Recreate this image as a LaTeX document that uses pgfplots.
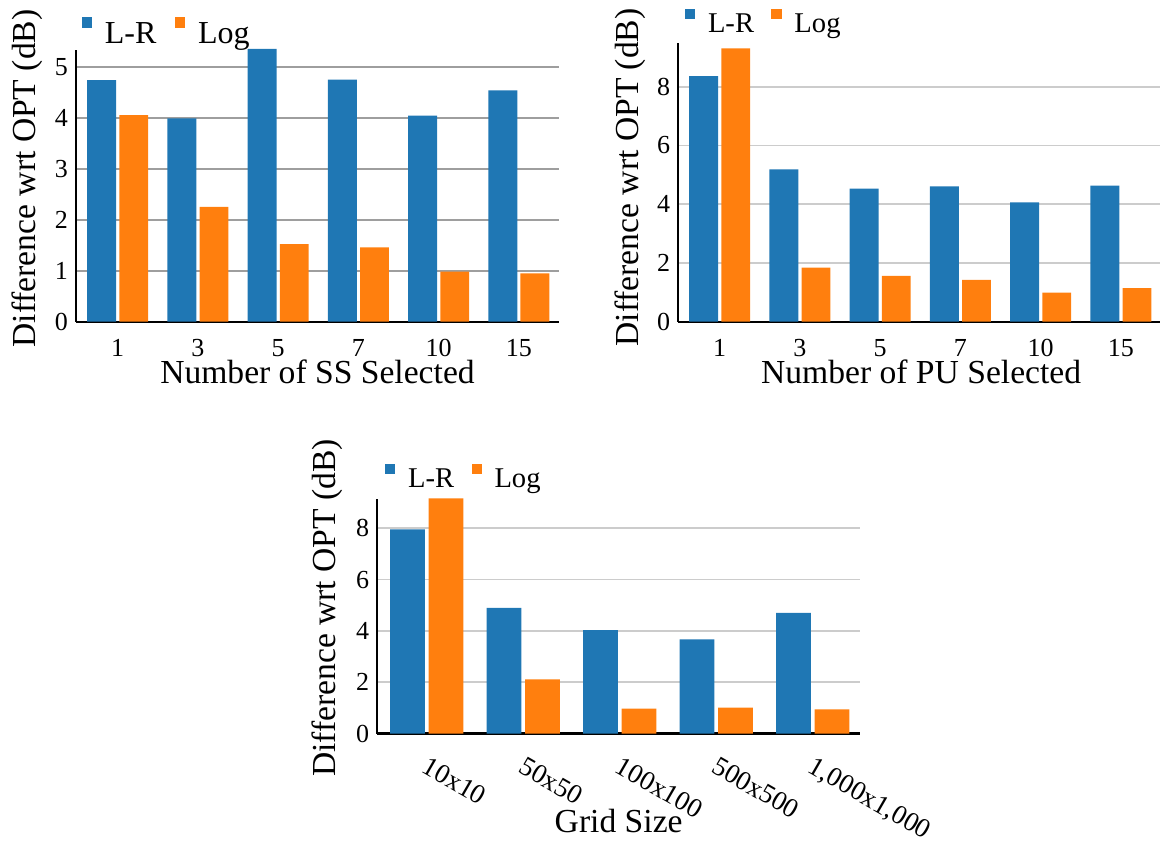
\documentclass[border=0pt]{standalone}
\usepackage{fontspec}
\setmainfont{Liberation Serif}
\usepackage{pgfplots}
\pgfplotsset{compat=1.18}
\definecolor{cLR}{RGB}{31,119,180}
\definecolor{cLog}{RGB}{255,127,14}
\pgfplotsset{
 common/.style={
  scale only axis, clip=false,
  axis lines*=left, axis line style={line width=1.1pt, black},
  ymin=0, major tick length=0pt,
  ymajorgrids,
  tick label style={font=\fontsize{13}{15}\selectfont},
  label style={font=\fontsize{16.8}{19}\selectfont},
  /pgf/number format/assume math mode=true,
  yticklabel style={anchor=east, inner sep=0pt, xshift=-3.9pt},
  legend columns=2,
  legend style={draw=none, fill=none, inner sep=0pt, outer sep=0pt, anchor=west,
    font=\fontsize{14.3}{16}\selectfont, nodes={inner sep=0pt},
    /tikz/every odd column/.append style={column sep=6.3pt},
    /tikz/every even column/.append style={column sep=8.7pt}},
 },
 lr/.style={ybar, bar width=0.36, bar shift=-0.2, fill=cLR, draw=none,
   legend image code/.code={\fill[cLR] (0pt,2.7pt) rectangle (5.2pt,7.9pt);}},
 lg/.style={ybar, bar width=0.36, bar shift=0.2, fill=cLog, draw=none,
   legend image code/.code={\fill[cLog] (0pt,2.7pt) rectangle (5.2pt,7.9pt);}},
 lrb/.style={ybar, bar width=0.36, bar shift=-0.2, fill=cLR, draw=none,
   legend image code/.code={\fill[cLR] (0pt,3.35pt) rectangle (5.3pt,8.65pt);}},
 lgb/.style={ybar, bar width=0.36, bar shift=0.2, fill=cLog, draw=none,
   legend image code/.code={\fill[cLog] (0pt,3.35pt) rectangle (5.3pt,8.65pt);}},
}
\begin{document}
\begin{tikzpicture}
\useasboundingbox (0,0) rectangle (580pt,420pt);
% Chart 1
\begin{axis}[common, anchor=south west, at={(38pt,259.15pt)},
  width=241.5pt, height=135.85pt,
  xmin=-0.52, xmax=5.5, ymax=5.33,
  ytick={0,1,2,3,4,5},
  xtick={0,1,2,3,4,5}, xticklabels={1,3,5,7,10,15},
  xticklabel style={anchor=base, inner sep=0pt, yshift=-17.5pt},
  grid style={black!38, line width=0.9pt},
  xlabel={Number of SS Selected},
  ylabel={Difference wrt OPT (dB)},
  xlabel style={at={(axis description cs:0.5,-0.229)}, anchor=base},
  ylabel style={at={(axis description cs:-0.101,0.527)}, anchor=center},
  legend style={at={(axis description cs:0.0118,1.0666)}, font=\fontsize{16}{18}\selectfont,
    /tikz/every even column/.append style={column sep=9.2pt}},
]
\addplot[lrb] coordinates {(0,4.74) (1,3.99) (2,5.35) (3,4.75) (4,4.04) (5,4.54)};
\addplot[lgb] coordinates {(0,4.05) (1,2.25) (2,1.52) (3,1.46) (4,0.98) (5,0.95)};
\legend{L-R, Log}
\end{axis}
% Chart 2
\begin{axis}[common, anchor=south west, at={(339.15pt,259.15pt)},
  width=241.35pt, height=139.5pt,
  xmin=-0.516, xmax=5.5, ymax=9.5,
  ytick={0,2,4,6,8},
  xtick={0,1,2,3,4,5}, xticklabels={1,3,5,7,10,15},
  xticklabel style={anchor=base, inner sep=0pt, yshift=-17.5pt},
  grid style={black!20, line width=0.9pt},
  xlabel={Number of PU Selected},
  ylabel={Difference wrt OPT (dB)},
  xlabel style={at={(axis description cs:0.503,-0.223)}, anchor=base},
  ylabel style={at={(axis description cs:-0.1,0.517)}, anchor=center},
  legend style={at={(axis description cs:0.0139,1.0746)}},
]
\addplot[lr] coordinates {(0,8.36) (1,5.19) (2,4.53) (3,4.61) (4,4.06) (5,4.63)};
\addplot[lg] coordinates {(0,9.31) (1,1.84) (2,1.56) (3,1.42) (4,0.99) (5,1.14)};
\legend{L-R, Log}
\end{axis}
% Chart 3
\begin{scope}
\clip (140pt,0pt) rectangle (466pt,212pt);
\begin{axis}[common, anchor=south west, at={(188.65pt,53.25pt)},
  width=241.35pt, height=117.1pt,
  xmin=-0.512, xmax=4.49, ymax=9.13,
  ytick={0,2,4,6,8},
  xtick={0,1,2,3,4}, xticklabels={10x10,50x50,100x100,500x500,{1,000x1,000}},
  xticklabel style={xshift=1.5pt, yshift=-11pt, rotate=-30, anchor=north west, inner sep=0pt,
    font=\fontsize{13.6}{15}\selectfont},
  grid style={black!20, line width=0.9pt},
  xlabel={Grid Size},
  ylabel={Difference wrt OPT (dB)},
  xlabel style={at={(axis description cs:0.5,-0.4206)}, anchor=base},
  ylabel style={at={(axis description cs:-0.104,0.536)}, anchor=center},
  legend style={at={(axis description cs:0.016,1.0956)}},
]
\addplot[lr] coordinates {(0,7.96) (1,4.90) (2,4.03) (3,3.67) (4,4.70)};
\addplot[lg] coordinates {(0,9.17) (1,2.11) (2,0.97) (3,1.01) (4,0.94)};
\legend{L-R, Log}
\end{axis}
\end{scope}
\end{tikzpicture}
\end{document}
